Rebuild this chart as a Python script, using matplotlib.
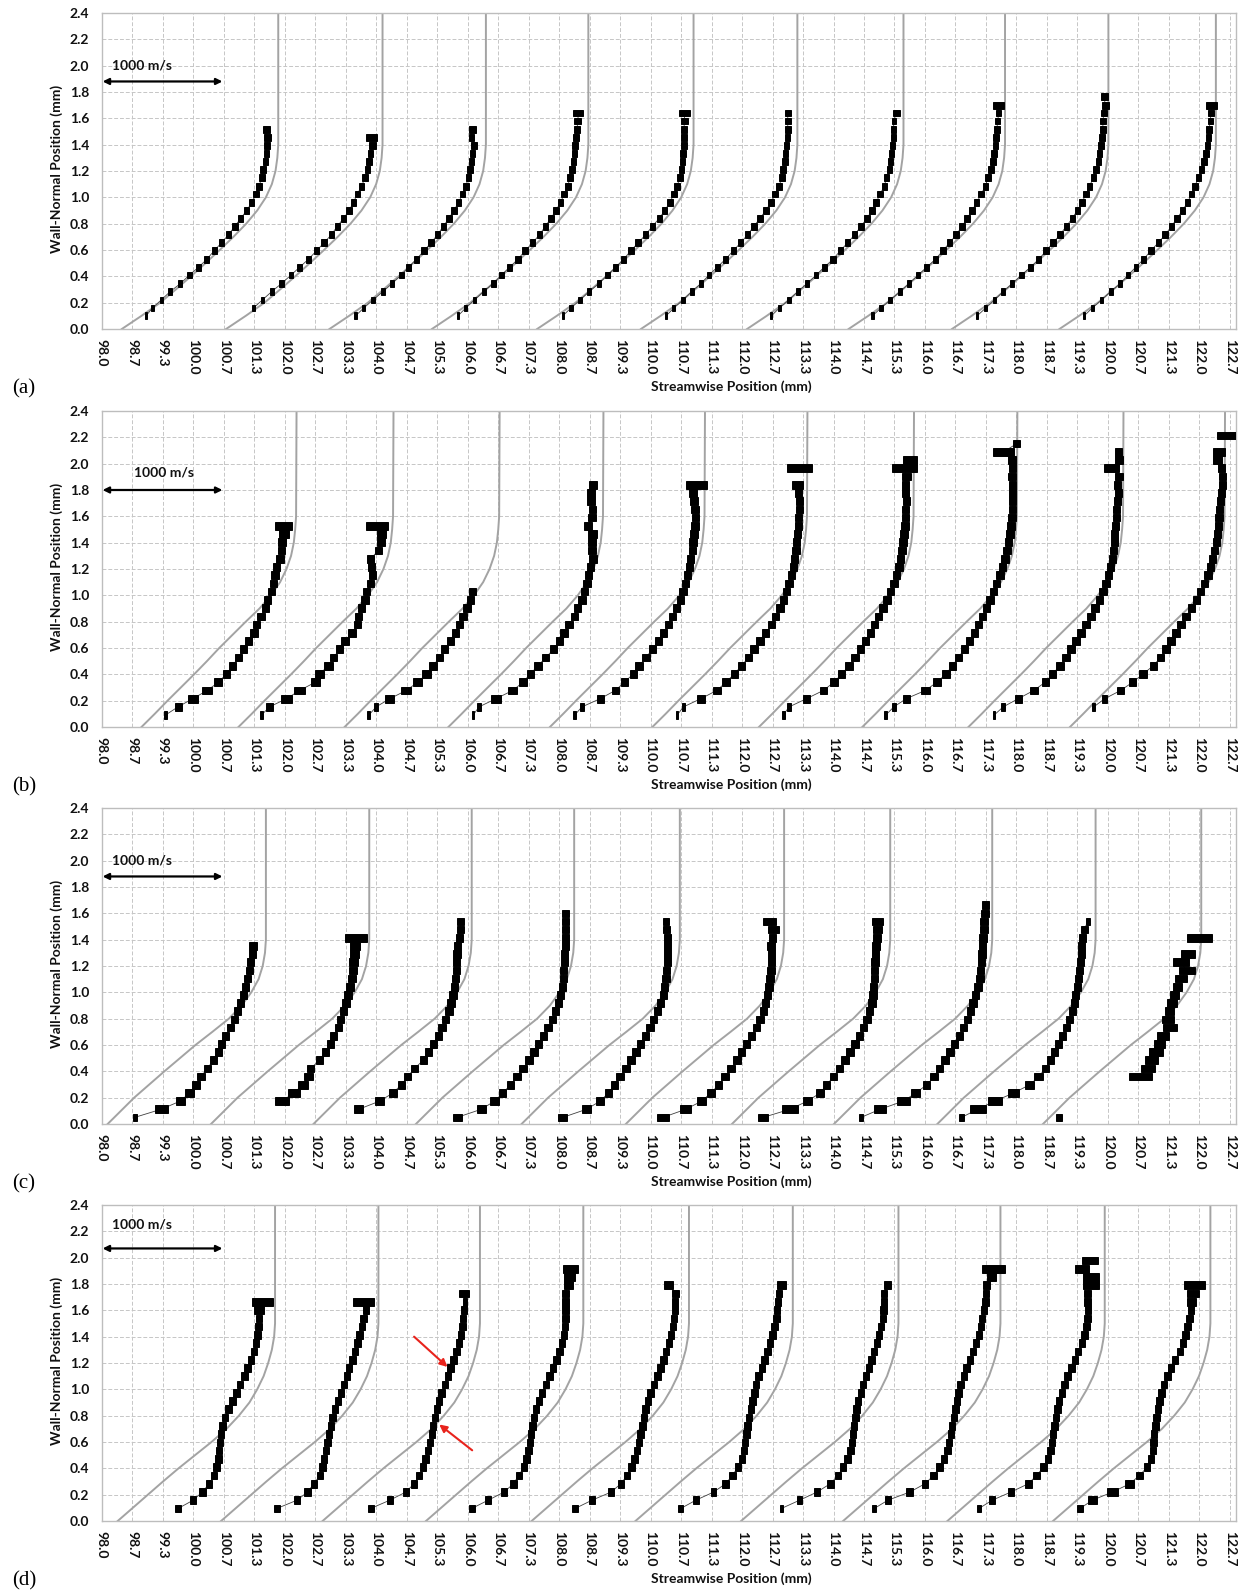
import numpy as np
import matplotlib.pyplot as plt
from matplotlib.ticker import MultipleLocator, FormatStrFormatter

plt.rcParams['font.family'] = ['Lato', 'DejaVu Sans']
plt.rcParams['font.weight'] = 'bold'

# ---------------- data ----------------
# wall-normal levels of the measurement rows (mm), one grid per panel
y_a = [0.10, 0.16, 0.22, 0.285, 0.345, 0.41, 0.47, 0.53, 0.595, 0.655, 0.715, 0.78, 0.84, 0.90,
       0.96, 1.025, 1.085, 1.15, 1.21, 1.27, 1.33, 1.395, 1.455, 1.515, 1.58, 1.64, 1.70, 1.765]
y_b = [0.09, 0.153, 0.215, 0.278, 0.34, 0.403, 0.465, 0.528, 0.59, 0.653, 0.715, 0.778, 0.84,
       0.903, 0.965, 1.028, 1.09, 1.153, 1.215, 1.278, 1.34, 1.403, 1.465, 1.528, 1.59, 1.653,
       1.715, 1.778, 1.84, 1.903, 1.965, 2.028, 2.09, 2.153, 2.215]
y_c = [0.05, 0.112, 0.174, 0.236, 0.298, 0.36, 0.422, 0.484, 0.546, 0.608, 0.67, 0.732, 0.794,
       0.856, 0.918, 0.98, 1.042, 1.104, 1.166, 1.228, 1.29, 1.352, 1.414, 1.476, 1.538, 1.60, 1.662]
y_d = [0.095, 0.158, 0.22, 0.283, 0.346, 0.409, 0.472, 0.535, 0.597, 0.66, 0.723, 0.786, 0.849,
       0.911, 0.974, 1.037, 1.10, 1.163, 1.225, 1.288, 1.351, 1.414, 1.477, 1.539, 1.602, 1.665,
       1.728, 1.791, 1.853, 1.916, 1.979]

# freestream line of each reference profile (mm)
stations_a = [101.86, 104.14, 106.40, 108.64, 110.94, 113.21, 115.53, 117.75, 120.01, 122.36]
stations_b = [102.26, 104.38, 106.70, 108.97, 111.19, 113.43, 115.76, 118.02, 120.34, 122.56]
stations_c = [101.59, 103.85, 106.09, 108.33, 110.64, 112.92, 115.24, 117.47, 119.73, 122.04]
stations_d = [101.79, 104.05, 106.27, 108.53, 110.84, 113.11, 115.42, 117.65, 119.93, 122.24]

# reference profile shape: streamwise distance from the wall point vs height
curve_y = [0, 0.1, 0.2, 0.3, 0.4, 0.5, 0.6, 0.7, 0.8, 0.9, 1.0, 1.1, 1.2, 1.3, 1.4, 1.5, 1.6, 2.4]
curve_a = [0, 0.43, 0.84, 1.18, 1.51, 1.83, 2.14, 2.44, 2.72, 2.96, 3.15, 3.28, 3.36, 3.40, 3.42, 3.42, 3.42, 3.42]
curve_b = [0, 0.29, 0.57, 0.86, 1.15, 1.43, 1.70, 1.99, 2.28, 2.58, 2.83, 3.03, 3.17, 3.27, 3.33, 3.36, 3.38, 3.39]
curve_c = [0, 0.29, 0.58, 0.91, 1.24, 1.58, 1.92, 2.29, 2.65, 2.93, 3.14, 3.30, 3.39, 3.44, 3.46, 3.46, 3.46, 3.46]
curve_d = [0, 0.33, 0.66, 0.99, 1.33, 1.69, 2.05, 2.38, 2.65, 2.88, 3.05, 3.19, 3.29, 3.37, 3.42, 3.44, 3.44, 3.44]

nan = np.nan

# panel (a): first grid row of each profile, marker centres (mm), marker widths (mm)
a_k = [0, 1, 0, 0, 0, 0, 0, 0, 0, 0]
a_x = [
    [98.97, 99.11, 99.30, 99.50, 99.72, 99.92, 100.12, 100.30, 100.46, 100.62, 100.77, 100.91, 101.04, 101.17, 101.28, 101.37, 101.44, 101.50, 101.53, 101.58, 101.60, 101.62, 101.62, 101.60],
    [101.32, 101.51, 101.72, 101.93, 102.14, 102.33, 102.52, 102.70, 102.86, 103.02, 103.15, 103.29, 103.41, 103.50, 103.59, 103.68, 103.76, 103.81, 103.84, 103.88, 103.92, 103.90],
    [103.55, 103.73, 103.93, 104.15, 104.35, 104.55, 104.71, 104.88, 105.05, 105.20, 105.34, 105.47, 105.59, 105.70, 105.80, 105.89, 105.96, 106.02, 106.05, 106.08, 106.11, 106.14, 106.08, 106.11],
    [105.79, 105.96, 106.15, 106.35, 106.56, 106.74, 106.92, 107.10, 107.26, 107.42, 107.57, 107.70, 107.82, 107.93, 108.03, 108.11, 108.19, 108.24, 108.28, 108.32, 108.34, 108.35, 108.37, 108.39, 108.41, 108.42],
    [108.08, 108.26, 108.46, 108.66, 108.87, 109.06, 109.24, 109.41, 109.57, 109.73, 109.89, 110.04, 110.19, 110.31, 110.42, 110.51, 110.58, 110.64, 110.68, 110.70, 110.71, 110.73, 110.73, 110.73, 110.74, 110.74],
    [110.34, 110.51, 110.71, 110.90, 111.10, 111.28, 111.46, 111.64, 111.81, 111.97, 112.12, 112.26, 112.39, 112.52, 112.63, 112.72, 112.81, 112.87, 112.90, 112.94, 112.95, 112.97, 112.99, 113.00, 113.00, 113.00],
    [112.64, 112.82, 113.02, 113.22, 113.42, 113.62, 113.80, 113.99, 114.15, 114.31, 114.46, 114.60, 114.73, 114.84, 114.93, 115.02, 115.11, 115.16, 115.22, 115.25, 115.27, 115.29, 115.31, 115.31, 115.32, 115.37],
    [114.85, 115.04, 115.24, 115.46, 115.65, 115.85, 116.04, 116.23, 116.39, 116.54, 116.68, 116.81, 116.92, 117.03, 117.13, 117.23, 117.32, 117.38, 117.44, 117.49, 117.51, 117.54, 117.55, 117.57, 117.59, 117.61, 117.61],
    [117.14, 117.33, 117.52, 117.71, 117.91, 118.11, 118.31, 118.49, 118.65, 118.80, 118.95, 119.09, 119.22, 119.33, 119.43, 119.52, 119.60, 119.68, 119.74, 119.79, 119.82, 119.85, 119.87, 119.89, 119.89, 119.91, 119.94, 119.92],
    [119.48, 119.66, 119.86, 120.06, 120.27, 120.44, 120.61, 120.78, 120.94, 121.10, 121.25, 121.39, 121.51, 121.63, 121.74, 121.83, 121.90, 121.98, 122.05, 122.10, 122.14, 122.18, 122.20, 122.21, 122.24, 122.25, 122.27],
]
a_w = [
    [0.05, 0.06, 0.07, 0.08, 0.09, 0.10, 0.10, 0.11, 0.11, 0.12, 0.12, 0.12, 0.12, 0.12, 0.12, 0.12, 0.12, 0.12, 0.12, 0.12, 0.12, 0.14, 0.15, 0.15],
    [0.05, 0.07, 0.08, 0.09, 0.10, 0.10, 0.11, 0.12, 0.12, 0.12, 0.12, 0.12, 0.12, 0.12, 0.12, 0.12, 0.12, 0.12, 0.12, 0.12, 0.14, 0.25],
    [0.05, 0.07, 0.08, 0.09, 0.10, 0.10, 0.11, 0.12, 0.12, 0.12, 0.12, 0.12, 0.12, 0.12, 0.12, 0.12, 0.12, 0.12, 0.12, 0.12, 0.12, 0.14, 0.12, 0.14],
    [0.05, 0.07, 0.08, 0.09, 0.10, 0.10, 0.11, 0.12, 0.12, 0.12, 0.12, 0.12, 0.12, 0.12, 0.12, 0.12, 0.12, 0.12, 0.12, 0.12, 0.12, 0.12, 0.12, 0.14, 0.15, 0.22],
    [0.05, 0.07, 0.08, 0.09, 0.10, 0.10, 0.11, 0.12, 0.12, 0.12, 0.12, 0.12, 0.12, 0.12, 0.12, 0.12, 0.12, 0.12, 0.12, 0.12, 0.12, 0.12, 0.12, 0.14, 0.15, 0.25],
    [0.05, 0.07, 0.08, 0.09, 0.10, 0.10, 0.11, 0.12, 0.12, 0.12, 0.12, 0.12, 0.12, 0.12, 0.12, 0.12, 0.12, 0.12, 0.12, 0.12, 0.12, 0.12, 0.12, 0.12, 0.12, 0.13],
    [0.05, 0.07, 0.08, 0.09, 0.10, 0.10, 0.11, 0.12, 0.12, 0.12, 0.12, 0.12, 0.12, 0.12, 0.12, 0.12, 0.12, 0.12, 0.12, 0.12, 0.12, 0.12, 0.12, 0.12, 0.10, 0.15],
    [0.05, 0.07, 0.08, 0.09, 0.10, 0.10, 0.11, 0.12, 0.12, 0.12, 0.12, 0.12, 0.12, 0.12, 0.12, 0.12, 0.12, 0.12, 0.12, 0.12, 0.12, 0.12, 0.12, 0.12, 0.12, 0.12, 0.23],
    [0.05, 0.06, 0.07, 0.08, 0.09, 0.10, 0.10, 0.11, 0.12, 0.12, 0.12, 0.12, 0.12, 0.12, 0.12, 0.12, 0.12, 0.12, 0.12, 0.12, 0.12, 0.12, 0.12, 0.12, 0.12, 0.12, 0.15, 0.15],
    [0.05, 0.06, 0.07, 0.08, 0.09, 0.10, 0.10, 0.11, 0.12, 0.12, 0.12, 0.12, 0.12, 0.12, 0.12, 0.12, 0.12, 0.12, 0.12, 0.12, 0.12, 0.12, 0.12, 0.12, 0.12, 0.12, 0.25],
]

# panel (b)
b_k = [0, 0, 0, 0, 0, 0, 0, 0, 0, 1]
b_x = [
    [99.39, 99.67, 99.99, 100.31, 100.55, 100.73, 100.86, 100.99, 101.10, 101.21, 101.33, 101.39, 101.48, 101.58, 101.63, 101.71, 101.75, 101.79, 101.82, 101.90, 101.93, 101.95, 101.99, 101.97],
    [101.49, 101.67, 102.04, 102.33, 102.67, 102.76, 102.96, 103.07, 103.20, 103.32, 103.47, 103.59, 103.61, 103.68, 103.76, 103.79, 103.87, 103.92, 103.90, 103.88, 104.05, 104.11, 104.12, 104.02],
    [103.84, 104.00, 104.30, 104.66, 104.91, 105.10, 105.24, 105.39, 105.50, 105.62, 105.73, 105.83, 105.90, 105.99, 106.06, 106.10],
    [106.12, 106.25, 106.62, 106.99, 107.21, 107.37, 107.54, 107.71, 107.88, 108.01, 108.11, 108.22, 108.33, 108.41, 108.50, 108.56, 108.61, 108.64, 108.69, 108.74, 108.72, 108.72, 108.74, 108.64, 108.72, 108.73, 108.70, 108.70, 108.74],
    [108.34, 108.50, 108.90, 109.23, 109.43, 109.62, 109.75, 109.90, 110.04, 110.17, 110.28, 110.39, 110.48, 110.57, 110.65, 110.71, 110.76, 110.81, 110.85, 110.88, 110.91, 110.93, 110.95, 110.97, 110.99, 110.97, 110.95, 110.93, 111.00],
    [110.58, 110.72, 111.10, 111.45, 111.65, 111.83, 111.99, 112.14, 112.26, 112.39, 112.52, 112.65, 112.73, 112.83, 112.90, 112.97, 113.03, 113.08, 113.12, 113.15, 113.18, 113.19, 113.21, 113.23, 113.24, 113.25, 113.25, 113.23, 113.21, nan, 113.25],
    [112.90, 113.03, 113.41, 113.78, 114.01, 114.18, 114.34, 114.47, 114.59, 114.70, 114.81, 114.90, 114.99, 115.08, 115.17, 115.24, 115.32, 115.38, 115.43, 115.46, 115.50, 115.52, 115.54, 115.56, 115.57, 115.57, 115.59, 115.57, 115.58, 115.59, 115.55, 115.67],
    [115.14, 115.32, 115.59, 116.01, 116.26, 116.46, 116.60, 116.73, 116.86, 116.97, 117.08, 117.17, 117.26, 117.34, 117.42, 117.50, 117.57, 117.64, 117.70, 117.75, 117.79, 117.82, 117.86, 117.88, 117.90, 117.91, 117.92, 117.92, 117.92, 117.90, 117.91, 117.90, 117.72, 118.01],
    [117.51, 117.71, 118.04, 118.38, 118.63, 118.79, 118.95, 119.08, 119.19, 119.30, 119.41, 119.52, 119.63, 119.72, 119.81, 119.89, 119.96, 120.01, 120.06, 120.10, 120.12, 120.14, 120.15, 120.17, 120.18, 120.19, 120.21, 120.23, 120.21, 120.24, 120.08, 120.24, 120.24],
    [119.69, 119.93, 120.28, 120.54, 120.77, 120.99, 121.15, 121.27, 121.38, 121.49, 121.60, 121.71, 121.82, 121.93, 122.03, 122.11, 122.19, 122.24, 122.29, 122.33, 122.37, 122.39, 122.41, 122.43, 122.44, 122.46, 122.48, 122.50, 122.51, 122.49, 122.39, 122.43, nan, 122.60],
]
b_w = [
    [0.06, 0.15, 0.22, 0.22, 0.17, 0.16, 0.16, 0.16, 0.16, 0.16, 0.16, 0.16, 0.16, 0.16, 0.16, 0.16, 0.16, 0.16, 0.16, 0.16, 0.16, 0.18, 0.22, 0.36],
    [0.06, 0.15, 0.25, 0.25, 0.20, 0.20, 0.18, 0.16, 0.16, 0.16, 0.16, 0.16, 0.16, 0.16, 0.16, 0.16, 0.16, 0.16, 0.16, 0.16, 0.16, 0.16, 0.20, 0.48],
    [0.06, 0.10, 0.20, 0.22, 0.20, 0.18, 0.16, 0.16, 0.16, 0.16, 0.16, 0.16, 0.16, 0.16, 0.16, 0.16],
    [0.06, 0.08, 0.20, 0.20, 0.17, 0.16, 0.16, 0.16, 0.16, 0.16, 0.16, 0.16, 0.16, 0.16, 0.16, 0.16, 0.16, 0.16, 0.16, 0.16, 0.16, 0.16, 0.20, 0.18, 0.16, 0.16, 0.16, 0.16, 0.18],
    [0.06, 0.08, 0.16, 0.16, 0.16, 0.16, 0.16, 0.16, 0.16, 0.16, 0.16, 0.16, 0.16, 0.16, 0.16, 0.16, 0.16, 0.16, 0.16, 0.16, 0.16, 0.16, 0.16, 0.16, 0.16, 0.16, 0.16, 0.16, 0.45],
    [0.06, 0.08, 0.16, 0.16, 0.16, 0.16, 0.16, 0.16, 0.16, 0.16, 0.16, 0.16, 0.16, 0.16, 0.16, 0.16, 0.16, 0.16, 0.16, 0.16, 0.16, 0.16, 0.16, 0.16, 0.16, 0.16, 0.16, 0.16, 0.25, nan, 0.55],
    [0.06, 0.08, 0.16, 0.16, 0.16, 0.16, 0.16, 0.16, 0.16, 0.16, 0.16, 0.16, 0.16, 0.16, 0.16, 0.16, 0.16, 0.16, 0.16, 0.16, 0.16, 0.16, 0.16, 0.16, 0.16, 0.16, 0.16, 0.16, 0.16, 0.20, 0.56, 0.30],
    [0.06, 0.08, 0.16, 0.18, 0.16, 0.16, 0.16, 0.16, 0.16, 0.16, 0.16, 0.16, 0.16, 0.16, 0.16, 0.16, 0.16, 0.16, 0.16, 0.16, 0.16, 0.16, 0.16, 0.16, 0.16, 0.16, 0.16, 0.16, 0.16, 0.16, 0.16, 0.17, 0.45, 0.15],
    [0.06, 0.08, 0.16, 0.18, 0.16, 0.16, 0.16, 0.16, 0.16, 0.16, 0.16, 0.16, 0.16, 0.16, 0.16, 0.16, 0.16, 0.16, 0.16, 0.16, 0.16, 0.16, 0.16, 0.16, 0.16, 0.16, 0.16, 0.16, 0.16, 0.16, 0.33, 0.16, 0.15],
    [0.06, 0.10, 0.16, 0.16, 0.16, 0.16, 0.16, 0.16, 0.16, 0.16, 0.16, 0.16, 0.16, 0.16, 0.16, 0.16, 0.16, 0.16, 0.16, 0.16, 0.16, 0.16, 0.16, 0.16, 0.16, 0.16, 0.16, 0.16, 0.16, 0.15, 0.20, 0.25, nan, 0.45],
]

# panel (c)
c_k = [0, 2, 1, 0, 0, 0, 0, 0, 0, 0]
c_x = [
    [98.72, 99.30, 99.72, 99.92, 100.07, 100.17, 100.31, 100.44, 100.55, 100.62, 100.71, 100.81, 100.90, 100.97, 101.04, 101.10, 101.15, 101.19, 101.23, 101.26, 101.29, 101.31],
    [101.94, 102.20, 102.40, 102.52, 102.57, 102.76, 102.89, 103.00, 103.07, 103.17, 103.22, 103.29, 103.34, 103.39, 103.43, 103.47, 103.49, 103.50, 103.52, 103.54, 103.56],
    [103.62, 104.08, 104.37, 104.55, 104.69, 104.84, 105.03, 105.15, 105.26, 105.36, 105.44, 105.51, 105.59, 105.64, 105.68, 105.72, 105.73, 105.75, 105.75, 105.77, 105.78, 105.82, 105.84, 105.84],
    [105.77, 106.30, 106.59, 106.77, 106.94, 107.08, 107.21, 107.34, 107.45, 107.55, 107.66, 107.76, 107.85, 107.92, 107.98, 108.03, 108.07, 108.09, 108.10, 108.12, 108.12, 108.14, 108.14, 108.14, 108.14, 108.14],
    [108.08, 108.60, 108.90, 109.08, 109.21, 109.33, 109.46, 109.57, 109.68, 109.78, 109.89, 109.99, 110.07, 110.15, 110.22, 110.28, 110.31, 110.34, 110.35, 110.37, 110.37, 110.37, 110.37, 110.35, 110.34],
    [110.27, 110.77, 111.12, 111.32, 111.49, 111.63, 111.76, 111.89, 111.99, 112.10, 112.21, 112.31, 112.39, 112.47, 112.52, 112.56, 112.59, 112.61, 112.63, 112.64, 112.65, 112.63, 112.67, 112.69, 112.60],
    [112.46, 113.05, 113.43, 113.71, 113.85, 114.00, 114.13, 114.25, 114.36, 114.47, 114.57, 114.65, 114.73, 114.79, 114.84, 114.86, 114.87, 114.89, 114.89, 114.91, 114.92, 114.93, 114.95, 114.96, 114.96],
    [114.60, 115.02, 115.53, 115.80, 116.04, 116.20, 116.31, 116.44, 116.55, 116.64, 116.75, 116.84, 116.93, 117.00, 117.05, 117.11, 117.16, 117.20, 117.22, 117.24, 117.25, 117.26, 117.27, 117.29, 117.29, 117.31, 117.32],
    [116.80, 117.15, 117.53, 117.94, 118.29, 118.49, 118.63, 118.74, 118.84, 118.92, 119.00, 119.09, 119.16, 119.22, 119.26, 119.29, 119.33, 119.36, 119.38, 119.40, 119.42, 119.43, 119.45, 119.48, 119.56],
    [118.93, nan, nan, nan, nan, 120.71, 120.87, 120.95, 121.05, 121.13, 121.20, 121.36, 121.31, 121.35, 121.40, 121.45, 121.53, 121.60, 121.72, 121.60, 121.75, nan, 122.00],
]
c_w = [
    [0.09, 0.29, 0.20, 0.18, 0.17, 0.16, 0.16, 0.16, 0.15, 0.15, 0.15, 0.15, 0.15, 0.15, 0.15, 0.15, 0.15, 0.15, 0.15, 0.15, 0.15, 0.17],
    [0.30, 0.25, 0.20, 0.18, 0.16, 0.16, 0.16, 0.16, 0.16, 0.16, 0.16, 0.16, 0.16, 0.18, 0.18, 0.18, 0.18, 0.20, 0.20, 0.22, 0.50],
    [0.20, 0.20, 0.18, 0.16, 0.16, 0.16, 0.16, 0.16, 0.16, 0.16, 0.16, 0.16, 0.16, 0.16, 0.16, 0.16, 0.16, 0.16, 0.16, 0.16, 0.16, 0.16, 0.16, 0.15],
    [0.20, 0.20, 0.18, 0.16, 0.16, 0.16, 0.16, 0.16, 0.16, 0.16, 0.16, 0.16, 0.16, 0.16, 0.16, 0.16, 0.16, 0.16, 0.16, 0.16, 0.16, 0.16, 0.16, 0.16, 0.16, 0.15],
    [0.20, 0.20, 0.18, 0.16, 0.16, 0.16, 0.16, 0.16, 0.16, 0.16, 0.16, 0.16, 0.16, 0.16, 0.16, 0.16, 0.16, 0.16, 0.16, 0.16, 0.16, 0.16, 0.16, 0.16, 0.14],
    [0.25, 0.25, 0.20, 0.16, 0.16, 0.16, 0.16, 0.16, 0.16, 0.16, 0.16, 0.16, 0.16, 0.16, 0.16, 0.16, 0.16, 0.16, 0.16, 0.16, 0.16, 0.16, 0.16, 0.25, 0.30],
    [0.20, 0.35, 0.20, 0.18, 0.16, 0.16, 0.16, 0.16, 0.16, 0.16, 0.16, 0.16, 0.16, 0.16, 0.16, 0.16, 0.16, 0.16, 0.16, 0.16, 0.16, 0.16, 0.16, 0.20, 0.25],
    [0.10, 0.25, 0.28, 0.20, 0.16, 0.16, 0.16, 0.16, 0.16, 0.16, 0.16, 0.16, 0.16, 0.16, 0.16, 0.16, 0.16, 0.16, 0.16, 0.16, 0.16, 0.16, 0.16, 0.16, 0.16, 0.16, 0.15],
    [0.10, 0.35, 0.30, 0.25, 0.20, 0.20, 0.16, 0.15, 0.15, 0.15, 0.15, 0.15, 0.15, 0.15, 0.15, 0.15, 0.15, 0.15, 0.15, 0.15, 0.15, 0.15, 0.15, 0.15, 0.10],
    [0.12, nan, nan, nan, nan, 0.50, 0.30, 0.30, 0.30, 0.25, 0.25, 0.30, 0.25, 0.20, 0.20, 0.20, 0.20, 0.25, 0.35, 0.35, 0.30, nan, 0.55],
]

# panel (d)
d_k = [0, 0, 0, 0, 0, 0, 0, 0, 0, 0]
d_x = [
    [99.67, 100.00, 100.20, 100.35, 100.46, 100.51, 100.55, 100.57, 100.58, 100.61, 100.64, 100.70, 100.77, 100.86, 100.95, 101.03, 101.12, 101.19, 101.26, 101.33, 101.37, 101.41, 101.43, 101.44, 101.44, 101.52],
    [101.83, 102.27, 102.50, 102.64, 102.77, 102.83, 102.86, 102.90, 102.94, 102.97, 103.01, 103.05, 103.10, 103.16, 103.23, 103.30, 103.36, 103.41, 103.48, 103.54, 103.59, 103.64, 103.69, 103.72, 103.78, 103.73],
    [103.88, 104.30, 104.65, 104.83, 104.94, 105.03, 105.08, 105.14, 105.18, 105.22, 105.24, 105.29, 105.33, 105.38, 105.43, 105.50, 105.57, 105.63, 105.69, 105.76, 105.81, 105.85, 105.89, 105.90, 105.92, 105.94, 105.92],
    [106.09, 106.45, 106.80, 107.00, 107.12, 107.23, 107.29, 107.33, 107.36, 107.39, 107.42, 107.45, 107.50, 107.56, 107.63, 107.71, 107.79, 107.87, 107.94, 108.01, 108.07, 108.11, 108.13, 108.14, 108.14, 108.14, 108.14, 108.20, 108.23, 108.24],
    [108.35, 108.72, 109.14, 109.35, 109.49, 109.58, 109.65, 109.71, 109.75, 109.78, 109.82, 109.86, 109.89, 109.95, 110.00, 110.07, 110.15, 110.22, 110.28, 110.34, 110.40, 110.45, 110.49, 110.51, 110.53, 110.53, 110.55, 110.40],
    [110.66, 110.99, 111.38, 111.64, 111.79, 111.91, 112.00, 112.04, 112.07, 112.10, 112.12, 112.15, 112.19, 112.23, 112.27, 112.30, 112.36, 112.44, 112.49, 112.56, 112.61, 112.67, 112.71, 112.75, 112.76, 112.78, 112.81, 112.86],
    [112.86, 113.26, 113.64, 113.93, 114.10, 114.21, 114.31, 114.37, 114.40, 114.43, 114.45, 114.48, 114.50, 114.54, 114.60, 114.64, 114.71, 114.77, 114.83, 114.89, 114.95, 115.00, 115.04, 115.08, 115.09, 115.10, 115.11, 115.18],
    [114.89, 115.19, 115.67, 116.00, 116.19, 116.32, 116.41, 116.49, 116.53, 116.57, 116.59, 116.63, 116.67, 116.70, 116.73, 116.78, 116.85, 116.91, 116.99, 117.05, 117.12, 117.18, 117.22, 117.25, 117.29, 117.32, 117.33, 117.35, 117.45, 117.49],
    [117.18, 117.47, 117.88, 118.26, 118.44, 118.59, 118.69, 118.74, 118.78, 118.80, 118.83, 118.86, 118.90, 118.93, 118.99, 119.05, 119.12, 119.20, 119.28, 119.35, 119.43, 119.49, 119.53, 119.55, 119.56, 119.55, 119.56, 119.62, 119.62, 119.43, 119.61],
    [119.39, 119.66, 120.10, 120.48, 120.69, 120.86, 120.94, 120.98, 121.00, 121.01, 121.04, 121.06, 121.09, 121.13, 121.17, 121.23, 121.30, 121.38, 121.47, 121.57, 121.64, 121.70, 121.74, 121.78, 121.82, 121.83, 121.86, 121.89],
]
d_w = [
    [0.13, 0.13, 0.14, 0.14, 0.14, 0.14, 0.14, 0.14, 0.14, 0.14, 0.14, 0.14, 0.14, 0.14, 0.14, 0.14, 0.14, 0.14, 0.14, 0.14, 0.14, 0.14, 0.14, 0.14, 0.20, 0.45],
    [0.13, 0.13, 0.14, 0.14, 0.14, 0.14, 0.14, 0.14, 0.14, 0.14, 0.14, 0.14, 0.14, 0.14, 0.14, 0.14, 0.14, 0.14, 0.14, 0.14, 0.14, 0.14, 0.14, 0.14, 0.15, 0.45],
    [0.13, 0.13, 0.13, 0.14, 0.14, 0.14, 0.14, 0.14, 0.14, 0.14, 0.14, 0.14, 0.14, 0.14, 0.14, 0.14, 0.14, 0.14, 0.14, 0.14, 0.14, 0.14, 0.14, 0.14, 0.14, 0.10, 0.20],
    [0.13, 0.13, 0.14, 0.14, 0.14, 0.14, 0.14, 0.14, 0.14, 0.14, 0.14, 0.14, 0.14, 0.14, 0.14, 0.14, 0.14, 0.14, 0.14, 0.14, 0.14, 0.14, 0.14, 0.14, 0.14, 0.14, 0.14, 0.20, 0.25, 0.33],
    [0.13, 0.13, 0.14, 0.14, 0.14, 0.14, 0.14, 0.14, 0.14, 0.14, 0.14, 0.14, 0.14, 0.14, 0.14, 0.14, 0.14, 0.14, 0.14, 0.14, 0.14, 0.14, 0.14, 0.14, 0.14, 0.14, 0.15, 0.20],
    [0.12, 0.12, 0.12, 0.14, 0.14, 0.14, 0.14, 0.14, 0.14, 0.14, 0.14, 0.14, 0.14, 0.14, 0.14, 0.14, 0.14, 0.14, 0.14, 0.14, 0.14, 0.14, 0.14, 0.14, 0.14, 0.14, 0.12, 0.20],
    [0.08, 0.12, 0.12, 0.14, 0.14, 0.14, 0.14, 0.14, 0.14, 0.14, 0.14, 0.14, 0.14, 0.14, 0.14, 0.14, 0.14, 0.14, 0.14, 0.14, 0.14, 0.14, 0.14, 0.14, 0.14, 0.14, 0.14, 0.15],
    [0.08, 0.12, 0.15, 0.14, 0.14, 0.14, 0.14, 0.14, 0.14, 0.14, 0.14, 0.14, 0.14, 0.14, 0.14, 0.14, 0.14, 0.14, 0.14, 0.14, 0.14, 0.14, 0.14, 0.14, 0.14, 0.14, 0.14, 0.15, 0.20, 0.50],
    [0.08, 0.13, 0.15, 0.15, 0.14, 0.14, 0.14, 0.14, 0.14, 0.14, 0.14, 0.14, 0.14, 0.14, 0.14, 0.14, 0.14, 0.14, 0.14, 0.14, 0.14, 0.14, 0.14, 0.14, 0.14, 0.15, 0.15, 0.35, 0.35, 0.30, 0.35],
    [0.12, 0.20, 0.22, 0.20, 0.14, 0.14, 0.14, 0.14, 0.14, 0.14, 0.14, 0.14, 0.14, 0.14, 0.14, 0.14, 0.14, 0.14, 0.14, 0.14, 0.14, 0.14, 0.14, 0.14, 0.14, 0.20, 0.25, 0.45],
]

# 1000 m/s scale arrow (mm) and its height per panel
arrow_x = [98.02, 100.64]
arrow_y = [1.88, 1.80, 1.88, 2.07]
arrow_label_x = [98.88, 99.36, 98.88, 98.89]
arrow_label_y = [2.00, 1.93, 2.00, 2.25]
# red pointer arrows in panel (d): (from x, from y, to x, to y)
red_arrows = [(104.83, 1.40, 105.56, 1.17), (106.10, 0.537, 105.38, 0.733)]

letters = ['(a)', '(b)', '(c)', '(d)']

# ---------------- layout ----------------
W, H = 1248, 1590
fig = plt.figure(figsize=(W / 100, H / 100), dpi=100)

tops = [13, 411, 808, 1205]
ph = 316
left_px, right_px = 101.7, 1236

panels = [
    (y_a, a_k, a_x, a_w, stations_a, curve_a, 0.052),
    (y_b, b_k, b_x, b_w, stations_b, curve_b, 0.058),
    (y_c, c_k, c_x, c_w, stations_c, curve_c, 0.058),
    (y_d, d_k, d_x, d_w, stations_d, curve_d, 0.058),
]

for i, (ygrid, ks, xs_all, ws_all, stations, curve, bh) in enumerate(panels):
    top = tops[i]
    ax = fig.add_axes([left_px / W, 1 - (top + ph) / H, (right_px - left_px) / W, ph / H])
    ax.set_xlim(98, 122.8)
    ax.set_ylim(0, 2.4)
    ax.xaxis.set_major_locator(MultipleLocator(2 / 3))
    ax.xaxis.set_major_formatter(FormatStrFormatter('%.1f'))
    ax.yaxis.set_major_locator(MultipleLocator(0.2))
    ax.yaxis.set_major_formatter(FormatStrFormatter('%.1f'))
    ax.grid(True, color='#c6c6c6', lw=0.7, ls=(0, (4, 2)))
    ax.set_axisbelow(True)
    for s in ax.spines.values():
        s.set_color('#bdbdbd')
        s.set_linewidth(1.0)
    ax.tick_params(length=0, labelsize=10, colors='#111111')
    ax.tick_params(axis='x', pad=7.5, labelrotation=-90)
    ax.tick_params(axis='y', pad=9)

    # reference profiles
    for st in stations:
        cx = [st - curve[-1] + d for d in curve]
        ax.plot(cx, curve_y, color='#a3a3a3', lw=1.4, zorder=2)

    # measured profiles
    for k, xs, ws in zip(ks, xs_all, ws_all):
        xs = np.array(xs, float)
        ws = np.array(ws, float)
        ys = np.array(ygrid[k:k + len(xs)], float)
        ax.plot(xs, ys, color='#404040', lw=0.6, zorder=3)
        ok = ~np.isnan(xs)
        ax.barh(ys[ok], ws[ok], left=xs[ok] - ws[ok] / 2, height=bh,
                color='black', edgecolor='black', linewidth=0.7, zorder=4)

    # velocity scale
    ax.annotate('', xy=(arrow_x[1], arrow_y[i]), xytext=(arrow_x[0], arrow_y[i]),
                arrowprops=dict(arrowstyle='<|-|>', color='black', lw=1.6,
                                mutation_scale=9, shrinkA=0, shrinkB=0), zorder=5)
    ax.text(arrow_label_x[i], arrow_label_y[i], '1000 m/s', ha='center', va='center',
            fontsize=10, color='#111111')

    if i == 3:
        for x0, y0, x1, y1 in red_arrows:
            ax.annotate('', xy=(x1, y1), xytext=(x0, y0),
                        arrowprops=dict(arrowstyle='-|>', color='#e8231c', lw=1.5,
                                        mutation_scale=11, shrinkA=0, shrinkB=0), zorder=6)

    fig.text(57 / W, 1 - (top + 156) / H, 'Wall-Normal Position (mm)', rotation=90,
             ha='center', va='center', fontsize=10, color='#111111')
    fig.text(731.5 / W, 1 - (top + ph + 58) / H, 'Streamwise Position (mm)',
             ha='center', va='center', fontsize=10, color='#111111')
    fig.text(24 / W, 1 - (top + ph + 60) / H, letters[i], family='Liberation Serif',
             weight='normal', ha='center', va='center', fontsize=15, color='black')

fig.savefig('out.png', dpi=100)
